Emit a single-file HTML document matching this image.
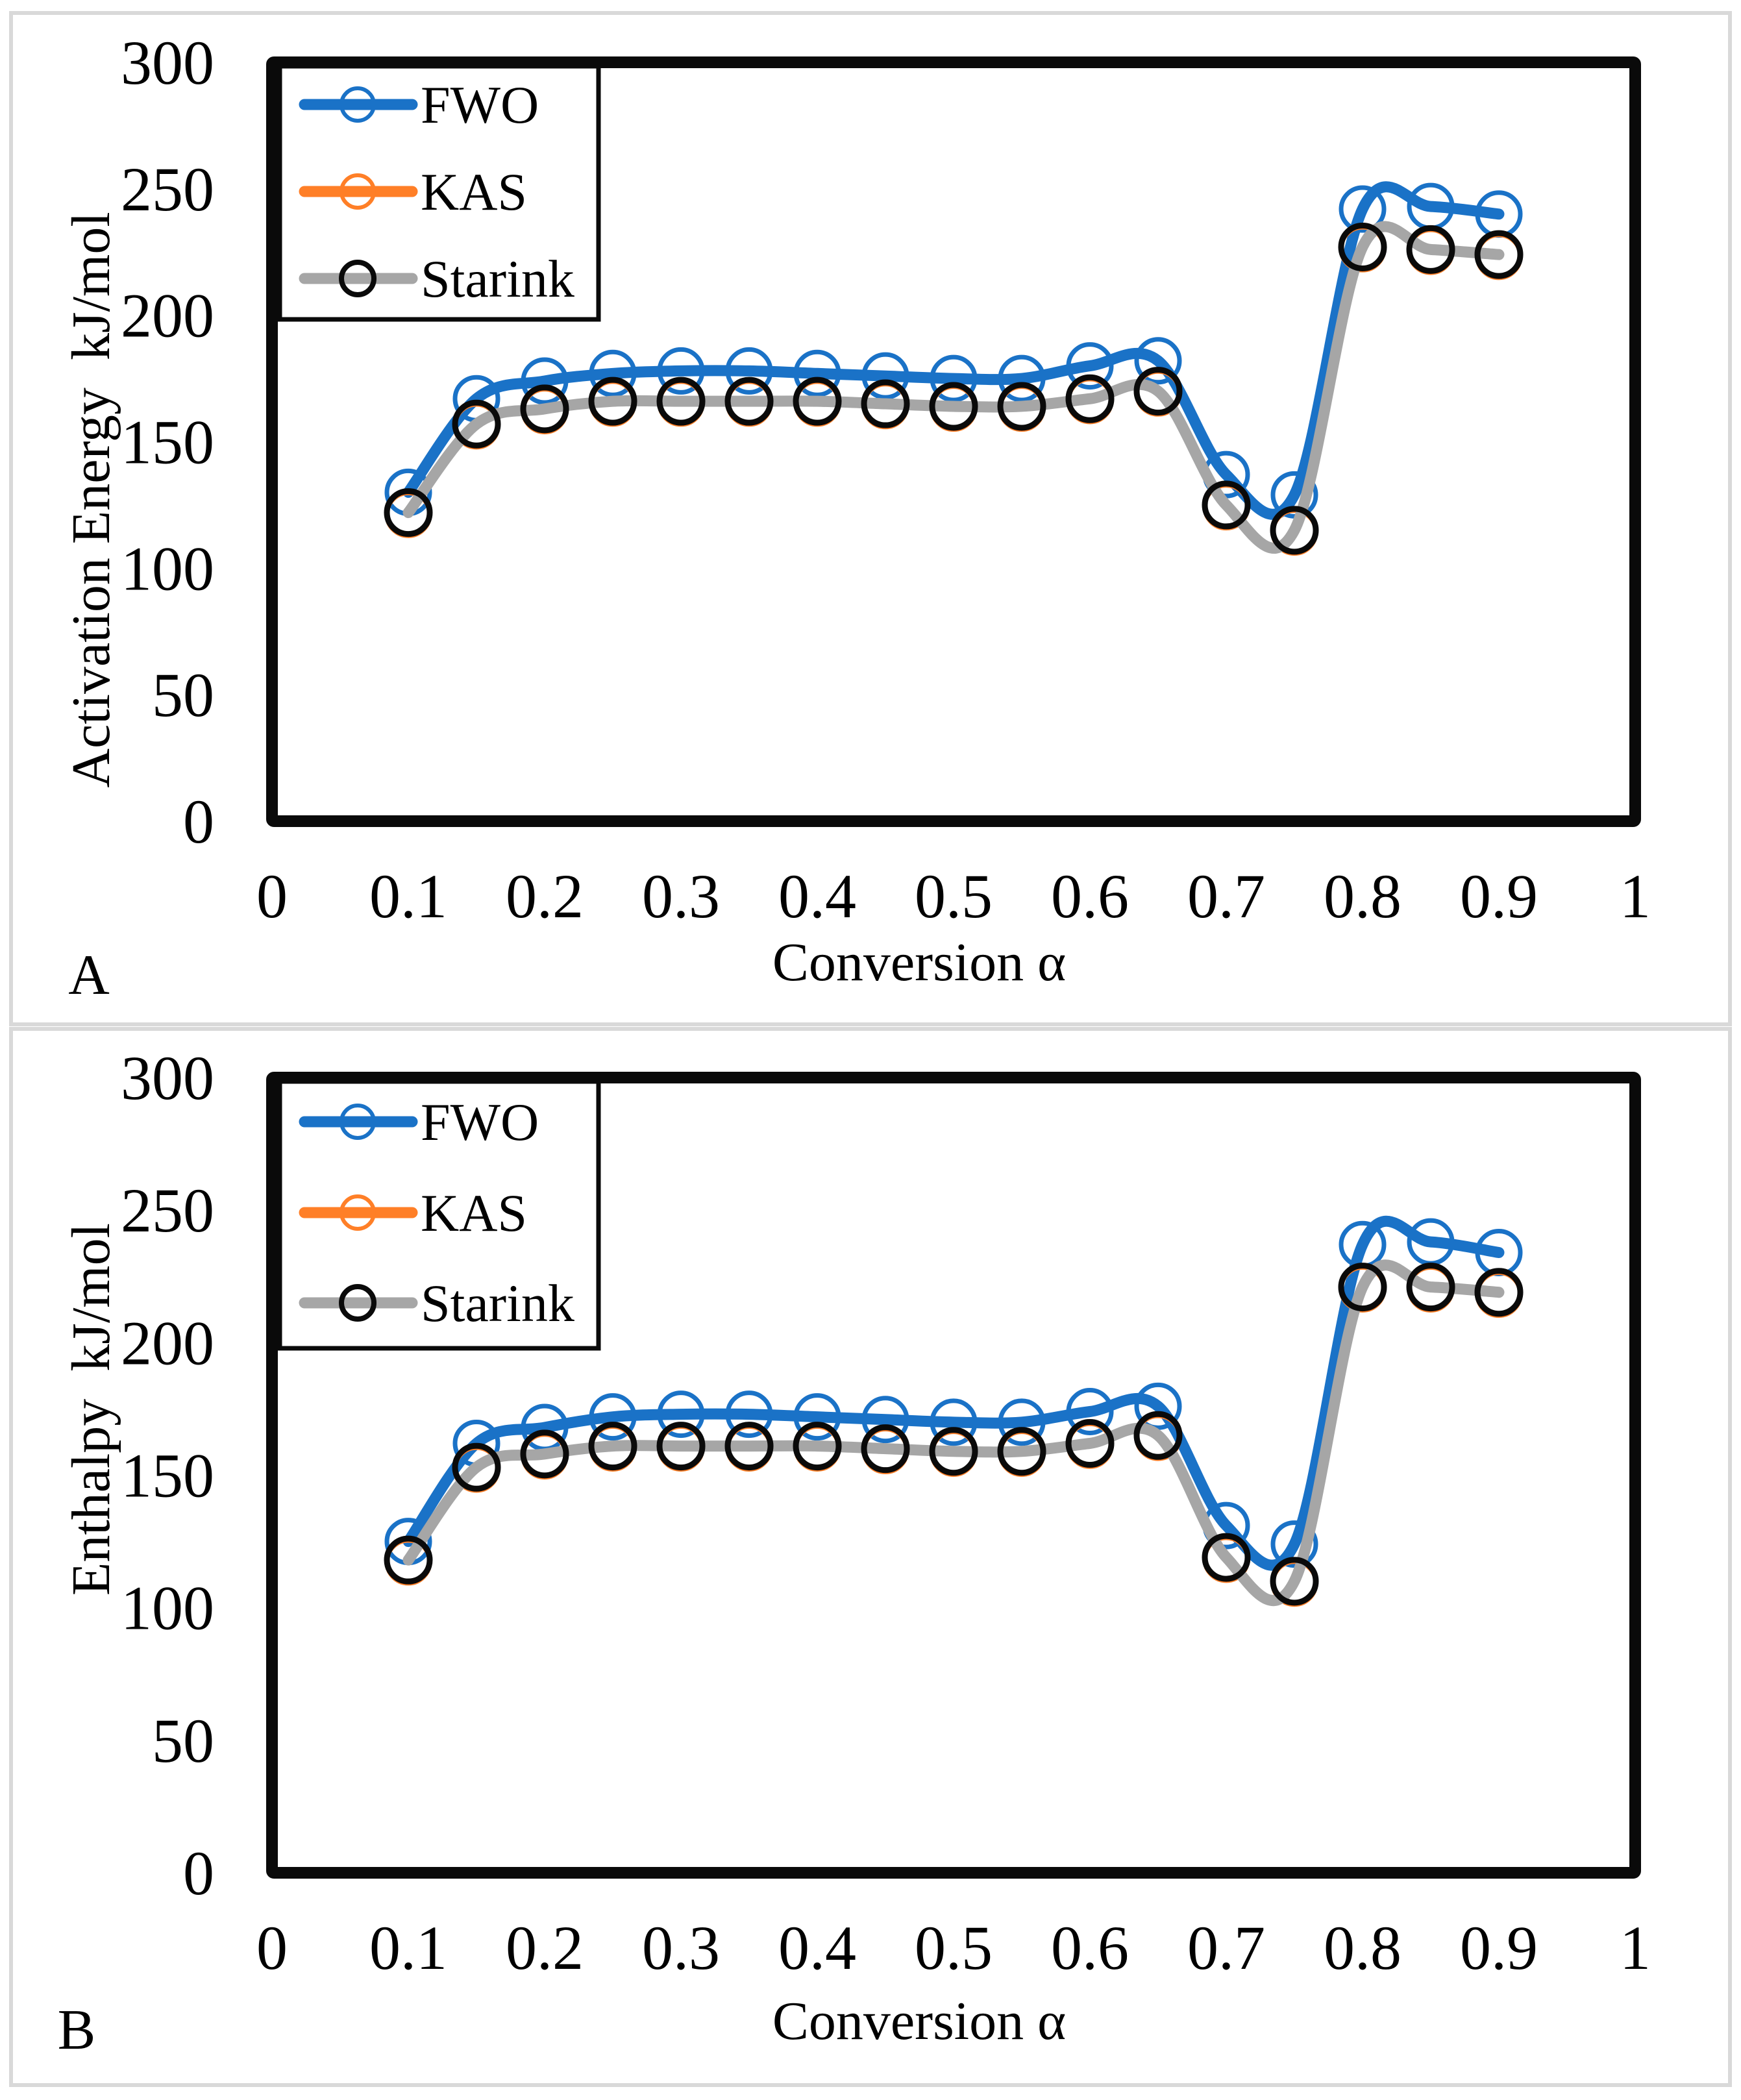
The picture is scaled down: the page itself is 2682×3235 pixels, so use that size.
<!DOCTYPE html>
<html><head><meta charset="utf-8"><style>
html,body{margin:0;padding:0;background:#fff}
svg{display:block}
text{font-family:"Liberation Serif",serif;fill:#000}
</style></head><body>
<svg id="chart" xmlns="http://www.w3.org/2000/svg" width="2682" height="3235" viewBox="0 0 2682 3235">
<rect x="0" y="0" width="2682" height="3235" fill="#fff"/>
<g id="root"></g>
</svg>
<script>
const categories=[0.1,0.15,0.2,0.25,0.3,0.35,0.4,0.45,0.5,0.55,0.6,0.65,0.7,0.75,0.8,0.85,0.9];
const xTicks=[0,0.1,0.2,0.3,0.4,0.5,0.6,0.7,0.8,0.9,1];
const yTicks=[0,50,100,150,200,250,300];
const fwoA=[130,167,174,177,178,178,177,176,175,175,180,182,137,129,242,243,240];
const kasA=[121.3,156.3,162.3,165.3,165.3,165.3,165.3,164.3,163.3,163.3,166.3,169.3,124.3,114.3,226.3,225.3,223.3];
const starinkA=[122,157,163,166,166,166,166,165,164,164,167,170,125,115,227,226,224];
const fwoB=[125,162,168,172,173,173,172,171,170,170,174,176,131,124,237,238,234];
const kasB=[117.3,152.3,157.3,160.3,160.3,160.3,160.3,159.3,158.3,158.3,161.3,164.3,118.3,109.3,220.3,220.3,218.3];
const starinkB=[118,153,158,161,161,161,161,160,159,159,162,165,119,110,221,221,219];

const NS='http://www.w3.org/2000/svg';
const root=document.getElementById('root');
function mk(tag,attrs,parent){const e=document.createElementNS(NS,tag);for(const k in attrs)e.setAttribute(k,attrs[k]);(parent||root).appendChild(e);return e;}

function smoothPath(pts){
  let d='M'+pts[0][0]+','+pts[0][1];
  for(let i=0;i<pts.length-1;i++){
    const p0=pts[i-1]||pts[i],p1=pts[i],p2=pts[i+1],p3=pts[i+2]||p2;
    const t=1/6;
    const c1=[p1[0]+(p2[0]-p0[0])*t,p1[1]+(p2[1]-p0[1])*t];
    const c2=[p2[0]-(p3[0]-p1[0])*t,p2[1]-(p3[1]-p1[1])*t];
    d+=' C'+c1[0]+','+c1[1]+' '+c2[0]+','+c2[1]+' '+p2[0]+','+p2[1];
  }
  return d;
}

function panel(cfg){
  const g=mk('g',{});
  
  
  const fr=mk('rect',{x:17,y:cfg.fy0,width:2648,height:cfg.fy1-cfg.fy0,fill:'none',stroke:'#d9d9d9','stroke-width':6},g);
  
  
  const X0=419,X1=2519;
  const xs=v=>X0+(X1-X0)*v;
  const ys=v=>cfg.y0+(cfg.y300-cfg.y0)*v/300;
  const series=[
    {name:'fwo',vals:cfg.fwo,color:'#1a72c7',mk:'#1a72c7'},
    {name:'kas',vals:cfg.kas,color:'#ff7f27',mk:'#ff7f27'},
    {name:'starink',vals:cfg.st,color:'#a6a6a6',mk:'#0a0a0a'}];
  series.forEach(s=>{
    const pts=categories.map((c,i)=>[xs(c),ys(s.vals[i])]);
    const p=mk('path',{d:smoothPath(pts),fill:'none',stroke:s.color,'stroke-width':s.name==='kas'?10:17,'stroke-linecap':'round','stroke-linejoin':'round'},g);
    
    
    pts.forEach((q,i)=>{
      const c=mk('circle',{cx:q[0],cy:q[1],r:33,fill:'none',stroke:s.mk,'stroke-width':s.name==='starink'?9:7},g);
      
      
    });
  });
  const box=mk('rect',{x:X0,y:cfg.y300,width:X1-X0,height:cfg.y0-cfg.y300,fill:'none',stroke:'#0a0a0a','stroke-width':18,rx:3},g);
  
  
  yTicks.forEach(v=>{
    const t=mk('text',{x:330,y:ys(v)+33,'font-size':96,'text-anchor':'end'},g);
    t.textContent=v;
    
    
  });
  xTicks.forEach(v=>{
    const t=mk('text',{x:xs(v),y:cfg.xTickY+33,'font-size':96,'text-anchor':'middle'},g);
    t.textContent=v;
    
    
  });
  const xt=mk('text',{x:1416,y:cfg.xTitleY+29,'font-size':84,'text-anchor':'middle'},g);
  xt.textContent='Conversion α';
  
  
  const yt=mk('text',{x:0,y:0,'font-size':84,'text-anchor':'middle',style:'white-space:pre',transform:'translate(168,'+cfg.yTitleC+') rotate(-90)'},g);
  yt.textContent=cfg.ytitle;
  
  
  const pl=mk('text',{x:cfg.labelX,y:cfg.labelY+36,'font-size':88,'text-anchor':'middle'},g);
  pl.textContent=cfg.label;
  
  
  const lg=mk('g',{},g);
  
  
  const lb=mk('rect',{x:431,y:cfg.y300+6,width:491,height:cfg.legB-cfg.y300-9,fill:'#fff',stroke:'#0a0a0a','stroke-width':7},lg);
  
  
  const names=['FWO','KAS','Starink'];
  series.forEach((s,i)=>{
    const y=cfg.legY[i];
    const e=mk('g',{},lg);
    
    
    mk('line',{x1:469,y1:y,x2:635,y2:y,stroke:s.color,'stroke-width':17,'stroke-linecap':'round'},e);
    mk('circle',{cx:551,cy:y,r:25,fill:'none',stroke:s.mk,'stroke-width':s.name==='starink'?8:6},e);
    const t=mk('text',{x:648,y:y+28,'font-size':82},e);
    t.textContent=names[i];
  });
}

panel({name:'panel-a-activation-energy',fy0:20,fy1:1578,y300:96,y0:1265,fwo:fwoA,kas:kasA,st:starinkA,
  xTickY:1380,xTitleY:1481,yTitleC:770,ytitle:'Activation Energy  kJ/mol',label:'A',labelX:137,labelY:1495,
  legB:495,legY:[161,295,429]});
panel({name:'panel-b-enthalpy',fy0:1585,fy1:3212,y300:1660,y0:2885,fwo:fwoB,kas:kasB,st:starinkB,
  xTickY:3000,xTitleY:3112,yTitleC:2171,ytitle:'Enthalpy  kJ/mol',label:'B',labelX:118,labelY:3120,
  legB:2080,legY:[1728,1868,2007]});
</script>
</body></html>
